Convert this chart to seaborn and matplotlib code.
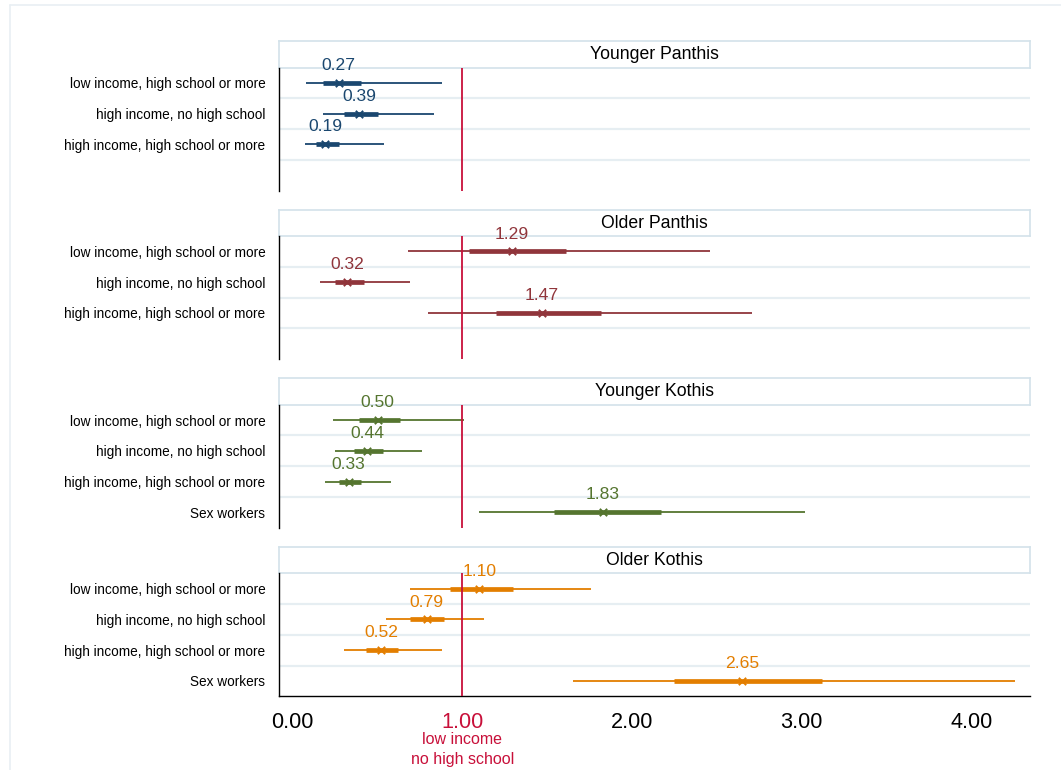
import numpy as np
import pandas as pd
import matplotlib
matplotlib.use("Agg")
import matplotlib.pyplot as plt
from matplotlib.lines import Line2D
from matplotlib.transforms import blended_transform_factory, Bbox, TransformedBbox
import seaborn as sns

# ---- data -------------------------------------------------------------
groups = ["Younger Panthis", "Older Panthis", "Younger Kothis", "Older Kothis"]
row_labels = [
    "low income, high school or more",
    "high income, no high school",
    "high income, high school or more",
    "Sex workers",
]

# odds ratios (point estimate, inner interval, outer interval)
yp_est = [0.27, 0.39, 0.19]
yp_in_lo = [0.18, 0.30, 0.14]
yp_in_hi = [0.40, 0.50, 0.27]
yp_lo = [0.08, 0.18, 0.07]
yp_hi = [0.88, 0.83, 0.54]

op_est = [1.29, 0.32, 1.47]
op_in_lo = [1.04, 0.25, 1.20]
op_in_hi = [1.61, 0.42, 1.82]
op_lo = [0.68, 0.16, 0.80]
op_hi = [2.46, 0.69, 2.71]

yk_est = [0.50, 0.44, 0.33, 1.83]
yk_in_lo = [0.39, 0.36, 0.27, 1.54]
yk_in_hi = [0.63, 0.53, 0.40, 2.17]
yk_lo = [0.24, 0.25, 0.19, 1.10]
yk_hi = [1.01, 0.76, 0.58, 3.02]

ok_est = [1.10, 0.79, 0.52, 2.65]
ok_in_lo = [0.93, 0.69, 0.43, 2.25]
ok_in_hi = [1.30, 0.89, 0.62, 3.12]
ok_lo = [0.69, 0.55, 0.30, 1.65]
ok_hi = [1.76, 1.13, 0.88, 4.26]

x_ticks = [0, 1, 2, 3, 4]
x_ticklabels = ["0.00", "1.00", "2.00", "3.00", "4.00"]
reference_label = ["low income", "no high school"]

palette = ["#1a476f", "#90353b", "#55752f", "#e37e00"]
ref_color = "#c8103a"
grid_color = "#e6eef2"
strip_edge = "#d3e2ea"

series = [
    (yp_est, yp_in_lo, yp_in_hi, yp_lo, yp_hi),
    (op_est, op_in_lo, op_in_hi, op_lo, op_hi),
    (yk_est, yk_in_lo, yk_in_hi, yk_lo, yk_hi),
    (ok_est, ok_in_lo, ok_in_hi, ok_lo, ok_hi),
]

frames = []
for g, (est, ilo, ihi, lo, hi) in zip(groups, series):
    n = len(est)
    frames.append(pd.DataFrame({
        "group": g, "row": row_labels[:n], "pos": np.arange(n),
        "est": est, "in_lo": ilo, "in_hi": ihi, "lo": lo, "hi": hi,
    }))
df = pd.DataFrame(pd.concat(frames, ignore_index=True))

# ---- figure -----------------------------------------------------------
sns.set_style("white")
plt.rcParams["font.family"] = ["Liberation Sans", "DejaVu Sans"]
plt.rcParams["text.color"] = "black"
plt.rcParams["xtick.color"] = "black"
plt.rcParams["ytick.color"] = "black"

W, H = 1061, 770
fig = plt.figure(figsize=(W / 100, H / 100), dpi=100)
fig.patch.set_facecolor("white")

# faint frame around the plot region
fig.add_artist(Line2D([10 / W, 1], [1 - 5 / H, 1 - 5 / H], color="#e9eff3", lw=1.2))
fig.add_artist(Line2D([10 / W, 10 / W], [0, 1 - 5 / H], color="#e9eff3", lw=1.2))

left_px, right_px = 279, 1030
xlim = (-0.081, 4.347)
strip_h, axes_h, period = 26.5, 123.0, 168.6
first_strip_top = 41.0

for i, g in enumerate(groups):
    sub = df[df["group"] == g]
    color = palette[i]
    strip_top = first_strip_top + i * period
    ax_top = strip_top + strip_h
    ax = fig.add_axes([left_px / W, 1 - (ax_top + axes_h) / H,
                       (right_px - left_px) / W, axes_h / H])
    ax.set_zorder(2)
    ax.patch.set_visible(False)

    # separators between rows
    for yb in (0.5, 1.5, 2.5):
        ax.axhline(yb, color=grid_color, lw=1.6, zorder=0)

    # outer and inner intervals
    ax.hlines(sub["pos"], sub["lo"], sub["hi"], color=color, lw=1.3, zorder=2)
    ax.hlines(sub["pos"], sub["in_lo"], sub["in_hi"], color=color, lw=3.4, zorder=3)

    sns.scatterplot(data=sub, x="est", y="pos", marker="x", color=color,
                    s=28, linewidth=1.4, ax=ax, zorder=4, legend=False)

    # value labels above each estimate; they may run a little into the strip
    label_clip = TransformedBbox(
        Bbox.from_extents(0, 0, 1, 1 - (ax_top - 10.5) / H), fig.transFigure)
    for _, r in sub.iterrows():
        t = ax.annotate(f"{r['est']:.2f}", (r["est"], r["pos"]), xytext=(0, 9.3),
                        textcoords="offset points", ha="center", va="baseline",
                        color=color, fontsize=12.6, zorder=5)
        t.set_clip_on(True)
        t.set_clip_box(label_clip)

    # reference line at odds ratio 1
    ax.axvline(1, color=ref_color, lw=1.3, zorder=6)

    ax.set_xlim(*xlim)
    ax.set_ylim(3.5, -0.5)
    ax.set_yticks(sub["pos"].tolist())
    ax.set_yticklabels(sub["row"].tolist(), fontsize=9.8, color="black")
    ax.set_xlabel("")
    ax.set_ylabel("")
    for s in ("top", "right"):
        ax.spines[s].set_visible(False)
    ax.spines["left"].set_color("black")
    ax.spines["left"].set_linewidth(1.0)
    ax.tick_params(axis="y", length=5.8, width=0.9, color="#333333", pad=4)

    if i < len(groups) - 1:
        ax.spines["bottom"].set_visible(False)
        ax.tick_params(axis="x", bottom=False, labelbottom=False)
    else:
        ax.spines["bottom"].set_color("black")
        ax.spines["bottom"].set_linewidth(1.0)
        ax.set_xticks(x_ticks)
        ax.set_xticklabels(x_ticklabels, fontsize=15.6, color="black")
        ax.tick_params(axis="x", length=7, width=0.9, color="#333333", pad=4)
        ax.get_xticklabels()[1].set_color(ref_color)
        trans = blended_transform_factory(ax.transData, ax.transAxes)
        for k, line in enumerate(reference_label):
            ax.annotate(line, (1, 0), xycoords=trans,
                        xytext=(0, -31.3 - 14.4 * k), textcoords="offset points",
                        ha="center", va="center", color=ref_color, fontsize=11.5,
                        annotation_clip=False)

    # panel title strip
    sax = fig.add_axes([left_px / W, 1 - ax_top / H,
                        (right_px - left_px) / W, strip_h / H])
    sax.set_zorder(1)
    sax.set_facecolor("white")
    sax.set_xticks([])
    sax.set_yticks([])
    for s in sax.spines.values():
        s.set_color(strip_edge)
        s.set_linewidth(1.2)
    sax.text(0.5, 0.48, g, ha="center", va="center", fontsize=12.7,
             color="black", transform=sax.transAxes)

fig.savefig("out.png", dpi=100)
